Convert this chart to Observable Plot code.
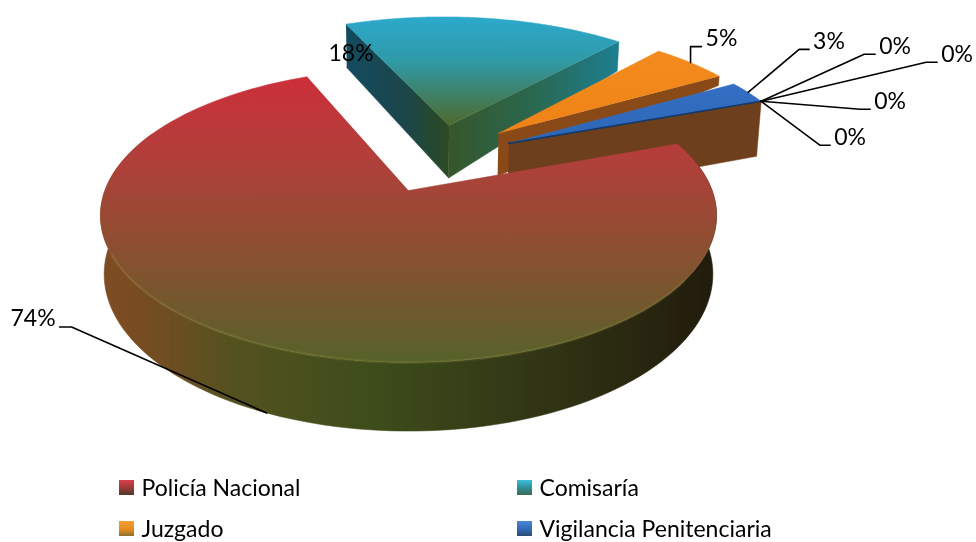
<!DOCTYPE html>
<html><head><meta charset="utf-8">
<script src="https://cdn.jsdelivr.net/npm/d3@7"></script>
<script src="https://cdn.jsdelivr.net/npm/@observablehq/plot@0.6"></script>
<style>html,body{margin:0;padding:0;background:#fff}</style>
</head><body><div id="chart"></div>
<script>
(() => {
// ---- data
const categories = ["Policía Nacional", "Comisaría", "Juzgado", "Vigilancia Penitenciaria"];
const shares = [74.3, 18, 5, 2.7];
const zeroShares = [0, 0, 0, 0];

// ---- layout and style
const firstSliceDeg = 69.8;
const view = {cx: 408, cy: 190, R: 303.6, Rf: 142.7, k: 0.17, wall: 57, shrink: 0.012};
const explode = [[0, 0], [0.145, 0.494], [0.318, 0.429], [0.35, 0.35]];
const radius = [1, 1.04, 1, 1.012];
const legendCols = [119, 517];
const legendRows = [488, 529];

const rad = Math.PI / 180;
function project(u, v, depth = 0) {
  const w = 1 + view.k * v, s = 1 - view.shrink * depth;
  return {x: view.cx + s * view.R * u / w, y: view.cy - view.Rf * v / w + depth * view.wall / w};
}
const all = shares.concat(zeroShares);
const arcs = d3.pie().sort(null)
  .startAngle(firstSliceDeg * rad).endAngle(firstSliceDeg * rad + 2 * Math.PI)(all);
const rim = (i, a, depth = 0) => {
  const j = Math.min(i, 3), [ox, oy] = explode[j];
  return project(ox + radius[j] * Math.sin(a), oy + radius[j] * Math.cos(a), depth);
};
const apex = (i, depth = 0) => project(explode[i][0], explode[i][1], depth);
const sweep = (i, a0, a1, depth = 0) => d3.range(0, 1.0001, 1 / 120).map(t => rim(i, a0 + (a1 - a0) * t, depth));
const A = i => arcs[i].startAngle, B = i => arcs[i].endAngle;

const face = i => [apex(i), ...sweep(i, A(i), B(i))];
const poly = (pts, fill) => Plot.line(pts, {x: "x", y: "y", fill, stroke: fill, strokeWidth: 0.5});

// gradients
const grads = [
  ["gRed", 0, 0, 0, 1, [[0, "#cc2f3a"], [.3, "#b0403a"], [.62, "#8a5030"], [1, "#56622a"]]],
  ["gRedWall", 0, 0, 1, 0, [[0, "#7f4c22"], [.08, "#754c22"], [.22, "#52521f"], [.45, "#3d4c1b"], [.7, "#323615"], [1, "#211b0c"]]],
  ["gTeal", 0, 0, 0, 1, [[0, "#2ca9cc"], [.4, "#2f9aa8"], [1, "#4e6a2c"]]],
  ["gTealL", 0, 0, 1, 0, [[0, "#144a60"], [.6, "#1c4648"], [1, "#2d4a22"]]],
  ["gTealR", 1, 0, 0, 0, [[0, "#1d7e92"], [.5, "#2a6850"], [1, "#35562a"]]],
  ["gOrange", 0, 0, 0, 1, [[0, "#f58b1e"], [1, "#ee8216"]]],
  ["gBlue", 0, 0, 0, 1, [[0, "#336fc4"], [1, "#2e66b4"]]],
  ["swRed", 0, 0, 0, 1, [[0, "#d8404a"], [.5, "#a03a3a"], [1, "#4f3a26"]]],
  ["swTeal", 0, 0, 0, 1, [[0, "#3cc0d8"], [.5, "#2f8f9c"], [1, "#3d6a50"]]],
  ["swOrange", 0, 0, 0, 1, [[0, "#f5a030"], [.6, "#e08a20"], [1, "#8a7030"]]],
  ["swBlue", 0, 0, 0, 1, [[0, "#4a88d8"], [.6, "#2f66b0"], [1, "#2f4a70"]]]
];
const defs = () => {
  const d = d3.create("svg:defs");
  for (const [id, x1, y1, x2, y2, stops] of grads) {
    const g = d.append("linearGradient").attr("id", id)
      .attr("x1", x1).attr("y1", y1).attr("x2", x2).attr("y2", y2);
    for (const [o, c] of stops) g.append("stop").attr("offset", o).attr("stop-color", c);
  }
  return d.node();
};

// walls
const tealLeftWall = [rim(1, A(1)), apex(1), apex(1, 1), rim(1, A(1), 0.95)];
const tealRightWall = [apex(1), rim(1, B(1)), rim(1, B(1), 0.62), apex(1, 1)];
const orangeWall = [apex(2), rim(2, B(2)), rim(2, B(2), 0.19), apex(2, 0.8)];
const blueWall = [apex(3), rim(3, B(3)), rim(3, B(3), 1.08), apex(3, 1.08)];
const redFrom = firstSliceDeg * rad, redTo = 295 * rad;
const redWall = [...sweep(0, redFrom, redTo), ...sweep(0, redFrom, redTo, 1).reverse()];
const redRim = sweep(0, 125 * rad, 245 * rad);

// leaders: anchors come from the slices, elbow and text offsets are layout
const mid = i => (A(i) + B(i)) / 2;
const leaderDefs = [
  {i: 0, anchor: rim(0, mid(0), 1), elbow: [-195, -86], run: -12},
  {i: 2, anchor: rim(2, mid(2)), elbow: [0, -16], run: 11},
  {i: 3, anchor: rim(3, mid(3)), elbow: [51, -43], run: 10},
  {i: 4, anchor: rim(4, A(4)), elbow: [103, -47], run: 11},
  {i: 5, anchor: rim(5, A(5)), elbow: [165, -39], run: 11},
  {i: 6, anchor: rim(6, A(6)), elbow: [99, 8], run: 10},
  {i: 7, anchor: rim(7, A(7)), elbow: [59, 44], run: 10}
];
const leaderPts = leaderDefs.flatMap((l, n) => {
  const e = {x: l.anchor.x + l.elbow[0], y: l.anchor.y + l.elbow[1]};
  return [{...l.anchor, n}, {...e, n}, {x: e.x + l.run, y: e.y, n}];
});
const leaderText = leaderDefs.map(l => ({
  x: l.anchor.x + l.elbow[0] + l.run + (l.run < 0 ? -4 : 4),
  y: l.anchor.y + l.elbow[1] - 8,
  label: Math.round(all[l.i]) + "%",
  anchor: l.run < 0 ? "end" : "start"
}));
const corner18 = rim(1, A(1));

const font = {fontFamily: "Lato, Carlito, sans-serif", fontSize: 23, fill: "#000", lineAnchor: "middle"};
const swatches = ["swRed", "swTeal", "swOrange", "swBlue"];
const legend = categories.map((name, i) => ({
  name, sw: swatches[i], col: legendCols[i % 2], row: legendRows[Math.floor(i / 2)]
}));

const plot = Plot.plot({
  width: 976, height: 542, margin: 0,
  x: {domain: [0, 976], axis: null},
  y: {domain: [542, 0], axis: null},
  style: {background: "#fff", filter: "blur(0.55px)"},
  marks: [
    defs,
    poly(tealLeftWall, "url(#gTealL)"),
    poly(tealRightWall, "url(#gTealR)"),
    poly(face(1), "url(#gTeal)"),
    poly(orangeWall, "#8a4a18"),
    poly(face(2), "url(#gOrange)"),
    poly(blueWall, "#6e3f1c"),
    poly(face(3), "url(#gBlue)"),
    Plot.line([apex(3), rim(3, B(3))], {x: "x", y: "y", stroke: "#123a6a", strokeWidth: 1.6}),
    poly(redWall, "url(#gRedWall)"),
    poly(face(0), "url(#gRed)"),
    Plot.line(redRim, {x: "x", y: "y", stroke: "#a8a040", strokeOpacity: 0.15, strokeWidth: 3}),
    Plot.line(leaderPts, {x: "x", y: "y", z: "n", stroke: "#000", strokeWidth: 1.6, curve: "linear"}),
    ...leaderText.map(t => Plot.text([t], {x: "x", y: "y", text: "label", textAnchor: t.anchor, ...font})),
    Plot.text([corner18], {x: "x", y: "y", dx: 5, dy: 29, text: () => Math.round(all[1]) + "%", ...font}),
    ...legend.map(d => Plot.rect([d], {
      x1: e => e.col, x2: e => e.col + 15, y1: e => e.row - 8, y2: e => e.row + 7, fill: `url(#${d.sw})`
    })),
    Plot.text(legend, {x: d => d.col + 22, y: "row", text: "name", textAnchor: "start", ...font})
  ]
});
document.getElementById("chart").append(plot);
})();
</script></body></html>
